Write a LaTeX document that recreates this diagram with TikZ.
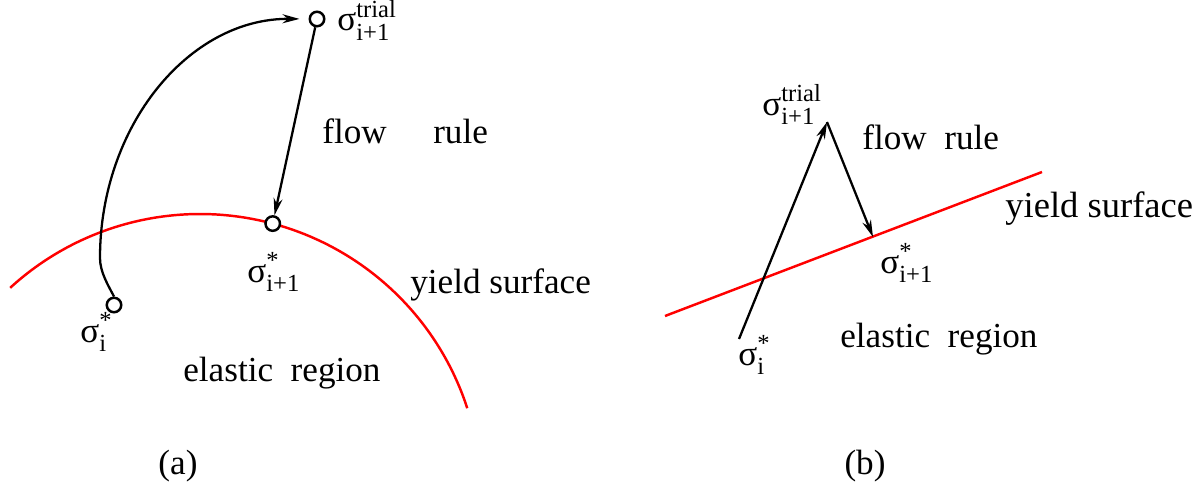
\documentclass[tikz,border=0pt]{standalone}
\usepackage{amsmath}
\usepackage{fontspec}
\setmainfont{Liberation Serif}
\usetikzlibrary{arrows.meta,calc,positioning}
\tikzset{
  surface/.style    = {line width=1.4pt, red},
  step arrow/.style = {-{Stealth[length=0.34cm,width=0.18cm]}, line width=1.3pt},
  state pt/.style   = {circle, draw, line width=1.4pt, fill=white,
                       inner sep=0pt, minimum size=0.29cm},
  lbl/.style        = {font=\fontsize{20}{24}\selectfont, inner sep=0pt,
                       anchor=base west},
}
\newcommand{\stress}[2]{σ$^{\text{#1}}_{\text{#2}}$}

\begin{document}
\begin{tikzpicture}
  \useasboundingbox (0,0) rectangle (24.08,9.72);

  % =======================================================================
  %  (a) curved yield surface
  % =======================================================================
  \coordinate (ctr) at (4.00,-0.18);
  \draw[surface] ($(ctr)+(132.5:5.62)$) arc[start angle=132.5, end angle=18, radius=5.62];

  \node[state pt] (ta) at (6.34,9.34) {};
  \node[state pt] (sb) at ($(ctr)+(75:5.62)$) {};
  \node[state pt] (si) at (2.28,3.62) {};
  \coordinate (bend) at (2.00,4.56);

  % elastic predictor, then return onto the surface
  \draw[step arrow, shorten >=0.18cm] (si.north) .. controls (2.16,4.02) and (2.00,4.28) .. (bend)
        .. controls (2.00,7.20) and (3.78,9.36) .. (ta.west);
  \draw[step arrow] (ta) -- (sb);

  \node[lbl] (ta lbl) at (6.74,9.10) {\stress{trial}{i+1}};
  \node[lbl] (sb lbl) at (4.94,4.08) {\stress{*}{i+1}};
  \node[lbl] (si lbl) at (1.60,2.88) {\stress{*}{i}};
  \node[lbl] (flow a) at (6.44,6.86) {flow\hspace{0.93cm}rule};
  \node[lbl] (yield a) at (8.20,3.86) {yield surface};
  \node[lbl] (elastic a) at (3.66,2.10) {elastic\ \ region};
  \node[lbl,anchor=base] (cap a) at (3.56,0.24) {(a)};

  % =======================================================================
  %  (b) linear yield surface
  % =======================================================================
  \coordinate (ys0) at (13.30,3.40);
  \coordinate (ys1) at (20.84,6.28);
  \draw[surface] (ys0) -- (ys1);

  \coordinate (s0) at (14.78,2.94);
  \coordinate (apex) at (16.54,7.28);
  \coordinate (foot) at (17.46,4.98);
  \draw[step arrow] (s0) -- (apex);
  \draw[step arrow] (apex) -- (foot);

  \node[lbl] (apex lbl) at (15.24,7.42) {\stress{trial}{i+1}};
  \node[lbl] (foot lbl) at (17.60,4.26) {\stress{*}{i+1}};
  \node[lbl] (s0 lbl) at (14.76,2.42) {\stress{*}{i}};
  \node[lbl] (flow b) at (17.24,6.72) {flow\ \ rule};
  \node[lbl,font=\fontsize{20.8}{24}\selectfont] (yield b) at (20.10,5.38) {yield surface};
  \node[lbl] (elastic b) at (16.80,2.78) {elastic\ \ region};
  \node[lbl,anchor=base] (cap b) at (17.30,0.24) {(b)};
\end{tikzpicture}
\end{document}
